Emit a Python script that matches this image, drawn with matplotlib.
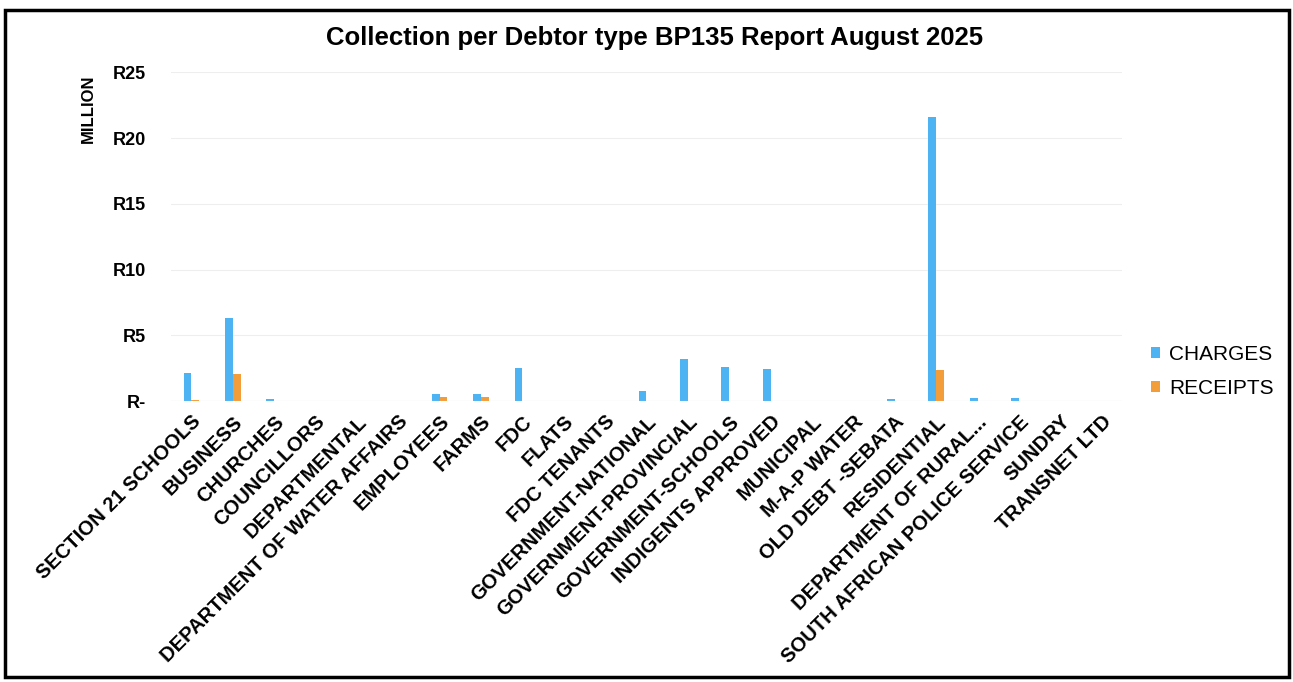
import matplotlib

matplotlib.use("Agg")
import matplotlib.pyplot as plt
import numpy as np
from matplotlib.patches import Rectangle

plt.rcParams["font.family"] = ["Liberation Sans", "DejaVu Sans"]

categories = [
    "SECTION 21 SCHOOLS", "BUSINESS", "CHURCHES", "COUNCILLORS", "DEPARTMENTAL",
    "DEPARTMENT OF WATER AFFAIRS", "EMPLOYEES", "FARMS", "FDC", "FLATS",
    "FDC TENANTS", "GOVERNMENT-NATIONAL", "GOVERNMENT-PROVINCIAL",
    "GOVERNMENT-SCHOOLS", "INDIGENTS APPROVED", "MUNICIPAL", "M-A-P WATER",
    "OLD DEBT -SEBATA", "RESIDENTIAL", "DEPARTMENT OF RURAL...",
    "SOUTH AFRICAN POLICE SERVICE", "SUNDRY", "TRANSNET LTD",
]
charges = [2.1, 6.3, 0.12, 0.0, 0.0, 0.0, 0.5, 0.5, 2.5, 0.0, 0.0, 0.75,
           3.2, 2.6, 2.4, 0.0, 0.0, 0.15, 21.6, 0.2, 0.2, 0.0, 0.0]
receipts = [0.08, 2.05, 0.0, 0.0, 0.0, 0.0, 0.3, 0.3, 0.0, 0.0, 0.0, 0.0,
            0.0, 0.0, 0.0, 0.0, 0.0, 0.0, 2.35, 0.0, 0.0, 0.0, 0.0]
yticks = [0, 5, 10, 15, 20, 25]
ytick_labels = ["R-", "R5", "R10", "R15", "R20", "R25"]

blue = "#4db3f2"
orange = "#f39c3a"

fig = plt.figure(figsize=(12.93, 6.82), dpi=100)
ax = fig.add_axes([0.132, 0.412, 0.736, 0.482])

x = np.arange(len(categories))
w = 0.19
ax.bar(x - w / 2, charges, w, color=blue, label="CHARGES")
ax.bar(x + w / 2, receipts, w, color=orange, label="RECEIPTS")

ax.set_xlim(-0.5, len(categories) - 0.5)
ax.set_ylim(0, 25)
ax.set_yticks(yticks)
ax.set_yticklabels(ytick_labels, fontsize=13, fontweight="bold")
ax.yaxis.grid(True, color="#eeeeee", lw=0.8)
ax.set_axisbelow(True)
ax.set_xticks(x)
ax.set_xticklabels(categories, rotation=45, ha="right", rotation_mode="anchor",
                   fontsize=14.5, fontweight="bold")
ax.tick_params(axis="y", length=0, pad=18)
ax.tick_params(axis="x", length=0, pad=8)
for s in ax.spines.values():
    s.set_visible(False)
ax.axhline(0, color="#e8e8e8", lw=0.8)

fig.text(0.068, 0.84, "MILLION", rotation=90, ha="center", va="center",
         fontsize=12, fontweight="bold")
fig.text(0.506, 0.944, "Collection per Debtor type BP135 Report August 2025",
         ha="center", va="center", fontsize=18.5, fontweight="bold")

ax.legend(loc="center left", bbox_to_anchor=(1.01, 0.09), frameon=False,
          fontsize=15, handlelength=0.45, handleheight=0.45, handletextpad=0.45,
          labelspacing=0.75)

fig.patches.append(Rectangle((0.004, 0.008), 0.993, 0.978, transform=fig.transFigure,
                             fill=False, edgecolor="black", lw=2.5))

fig.savefig("out.png", dpi=100)
